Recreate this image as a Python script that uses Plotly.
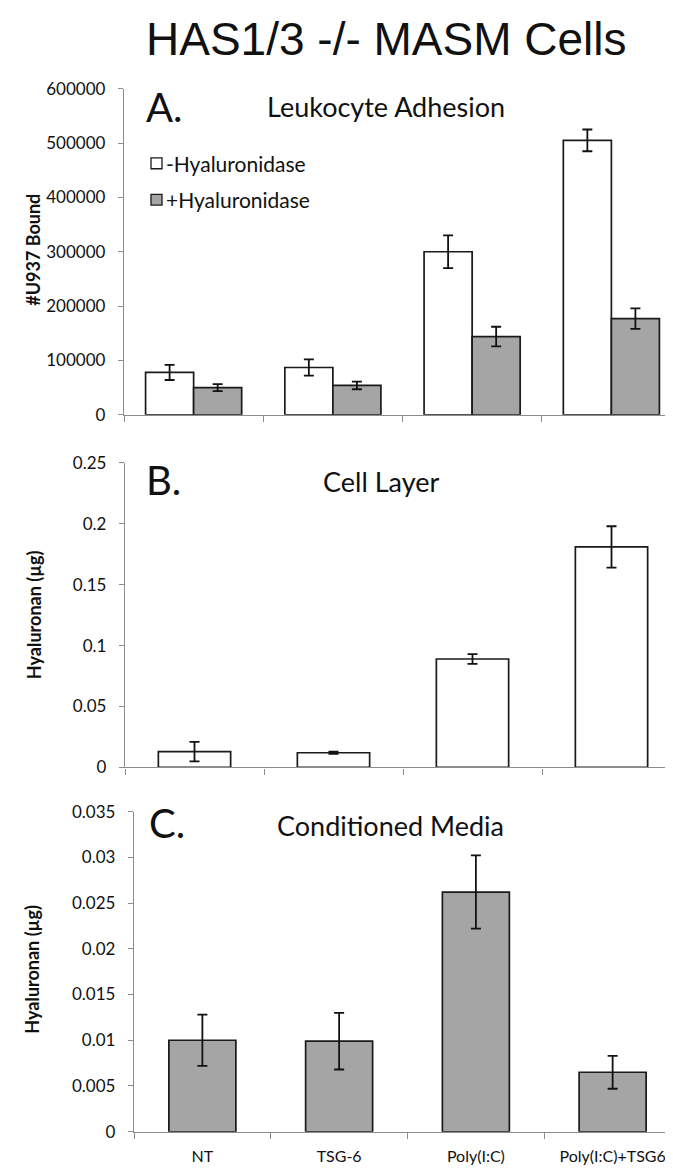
import plotly.graph_objects as go

W, H = 673, 1174

categories = ["NT", "TSG-6", "Poly(I:C)", "Poly(I:C)+TSG6"]

# Panel A: Leukocyte adhesion (#U937 bound)
adh_minus = [78000, 87000, 300000, 505000]
adh_minus_err = [14000, 15000, 30000, 20000]
adh_plus = [50000, 54000, 144000, 177000]
adh_plus_err = [6500, 7000, 18000, 19000]

# Panel B: Cell layer hyaluronan (ug)
cell_layer = [0.013, 0.012, 0.089, 0.181]
cell_layer_err = [0.008, 0.001, 0.004, 0.017]

# Panel C: Conditioned media hyaluronan (ug)
media = [0.0100, 0.0099, 0.0262, 0.0065]
media_err = [0.0028, 0.0031, 0.0040, 0.0018]

ticks_a = [0, 100000, 200000, 300000, 400000, 500000, 600000]
ticks_a_text = ["0", "100000", "200000", "300000", "400000", "500000", "600000"]
ticks_b = [0, 0.05, 0.1, 0.15, 0.2, 0.25]
ticks_b_text = ["0", "0.05", "0.1", "0.15", "0.2", "0.25"]
ticks_c = [0, 0.005, 0.01, 0.015, 0.02, 0.025, 0.03, 0.035]
ticks_c_text = ["0", "0.005", "0.01", "0.015", "0.02", "0.025", "0.03", "0.035"]

legend_labels = ["-Hyaluronidase", "+Hyaluronidase"]

FONT = "Lato"
TXT = "#111111"
WHITE = "#ffffff"
GREY = "#a5a5a5"
OUTLINE = "#1a1a1a"
AXIS = "#8c8c8c"


def px_x(p):
    return p / W


def px_y(p):
    return 1 - p / H


fig = go.Figure()

err_style = dict(type="data", color=TXT, thickness=1.8, width=5)

fig.add_trace(go.Bar(
    x=categories, y=adh_minus, name=legend_labels[0], showlegend=False,
    marker=dict(color=WHITE, line=dict(color=OUTLINE, width=1.7)),
    error_y=dict(array=adh_minus_err, **err_style),
    xaxis="x", yaxis="y",
))
fig.add_trace(go.Bar(
    x=categories, y=adh_plus, name=legend_labels[1], showlegend=False,
    marker=dict(color=GREY, line=dict(color=OUTLINE, width=1.7)),
    error_y=dict(array=adh_plus_err, **err_style),
    xaxis="x", yaxis="y",
))
fig.add_trace(go.Bar(
    x=categories, y=cell_layer, name="Cell Layer", showlegend=False,
    marker=dict(color=WHITE, line=dict(color=OUTLINE, width=1.7)),
    error_y=dict(array=cell_layer_err, **err_style),
    xaxis="x2", yaxis="y2", width=0.52,
))
fig.add_trace(go.Bar(
    x=categories, y=media, name="Conditioned Media", showlegend=False,
    marker=dict(color=GREY, line=dict(color=OUTLINE, width=1.7)),
    error_y=dict(array=media_err, **err_style),
    xaxis="x3", yaxis="y3", width=0.49,
))

common_x = dict(
    type="category", showline=True, linecolor=AXIS, linewidth=1.4,
    ticks="outside", tickson="boundaries", ticklen=6, tickcolor=AXIS,
    showgrid=False, zeroline=False, fixedrange=True,
)
common_y = dict(
    showline=True, linecolor=AXIS, linewidth=1.4, ticks="outside",
    ticklen=5, tickcolor=AXIS, showgrid=False, zeroline=False,
    ticklabelstandoff=9,
    tickfont=dict(family=FONT, size=17, color=TXT),
)

fig.update_layout(
    width=W, height=H,
    margin=dict(l=0, r=0, t=0, b=0),
    paper_bgcolor="white", plot_bgcolor="white",
    barmode="group", bargap=0.31, bargroupgap=0,
    font=dict(family=FONT, color=TXT),
    showlegend=False,
    xaxis=dict(domain=[px_x(116), 1], anchor="y", showticklabels=False, **common_x),
    yaxis=dict(domain=[px_y(403), px_y(71)], anchor="x", range=[0, 600000],
               tickvals=ticks_a, ticktext=ticks_a_text, **common_y),
    xaxis2=dict(domain=[px_x(117), 1], anchor="y2", showticklabels=False, **common_x),
    yaxis2=dict(domain=[px_y(762), px_y(452)], anchor="x2", range=[0, 0.25],
                tickvals=ticks_b, ticktext=ticks_b_text, **common_y),
    xaxis3=dict(domain=[px_x(126), 1], anchor="y3", showticklabels=True,
                ticklabelstandoff=10,
                tickfont=dict(family=FONT, size=16, color=TXT), **common_x),
    yaxis3=dict(domain=[px_y(1133), px_y(807)], anchor="x3", range=[0, 0.035],
                tickvals=ticks_c, ticktext=ticks_c_text, **common_y),
)

# Legend drawn as swatches + labels (matches the original's tight layout)
legend_y = [147, 184]
legend_fill = [WHITE, GREY]
shapes = []
annotations = []
for lbl, yy, fc in zip(legend_labels, legend_y, legend_fill):
    shapes.append(dict(type="rect", xref="paper", yref="paper",
                       x0=px_x(143), x1=px_x(154), y0=px_y(yy + 5.5), y1=px_y(yy - 5.5),
                       fillcolor=fc, line=dict(color=OUTLINE, width=1.3)))
    annotations.append(dict(text=lbl, x=px_x(156), y=px_y(yy), xanchor="left",
                            font=dict(family=FONT, size=21, color=TXT)))

annotations += [
    dict(text="HAS1/3 -/- MASM Cells", x=px_x(378), y=px_y(20),
         font=dict(family="Liberation Sans", size=46, color=TXT)),
    dict(text="A.", x=px_x(136), y=px_y(90), xanchor="left",
         font=dict(family=FONT, size=40, color=TXT)),
    dict(text="Leukocyte Adhesion", x=px_x(378), y=px_y(89),
         font=dict(family=FONT, size=27, color=TXT)),
    dict(text="B.", x=px_x(136), y=px_y(469), xanchor="left",
         font=dict(family=FONT, size=40, color=TXT)),
    dict(text="Cell Layer", x=px_x(373), y=px_y(471),
         font=dict(family=FONT, size=27, color=TXT)),
    dict(text="C.", x=px_x(139), y=px_y(819), xanchor="left",
         font=dict(family=FONT, size=40, color=TXT)),
    dict(text="Conditioned Media", x=px_x(382), y=px_y(821),
         font=dict(family=FONT, size=27, color=TXT)),
    dict(text="<b>#U937 Bound</b>", x=px_x(25), y=px_y(235), textangle=-90,
         font=dict(family=FONT, size=18, color=TXT)),
    dict(text="<b>Hyaluronan (µg)</b>", x=px_x(26), y=px_y(607), textangle=-90,
         font=dict(family=FONT, size=18, color=TXT)),
    dict(text="<b>Hyaluronan (µg)</b>", x=px_x(24), y=px_y(968), textangle=-90,
         font=dict(family=FONT, size=18, color=TXT)),
]
for a in annotations:
    a.update(xref="paper", yref="paper", showarrow=False,
             xanchor=a.get("xanchor", "center"), yanchor="middle")
fig.update_layout(annotations=annotations, shapes=shapes)

fig.write_html("out.html")
